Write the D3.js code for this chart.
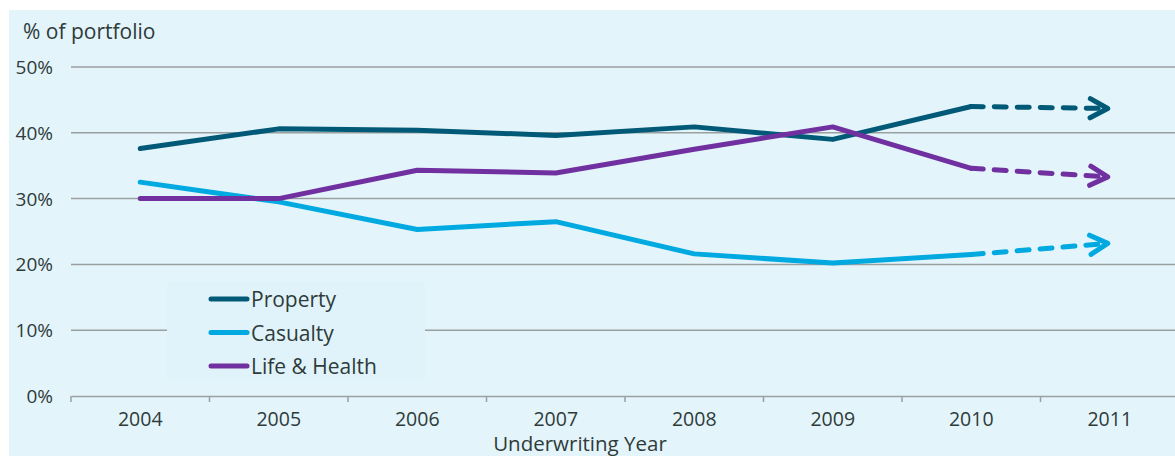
<!DOCTYPE html>
<html>
<head>
<meta charset="utf-8">
<script src="https://cdn.jsdelivr.net/npm/d3@7"></script>
<style>
  body { margin: 0; background: #fff; }
  text { font-family: "Open Sans", "Liberation Sans", sans-serif; fill: #2e3b39; }
</style>
</head>
<body>
<script>
// data
var years = ["2004", "2005", "2006", "2007", "2008", "2009", "2010", "2011"];
var property = [37.6, 40.6, 40.4, 39.6, 40.9, 39.0, 44.0, 43.7];
var casualty = [32.5, 29.5, 25.3, 26.5, 21.6, 20.2, 21.5, 23.2];
var lifeHealth = [30.0, 30.0, 34.3, 33.9, 37.5, 40.9, 34.6, 33.3];
var yTicks = [0, 10, 20, 30, 40, 50];

var series = [
    {name: "Property", values: property, color: "#005a77"},
    {name: "Casualty", values: casualty, color: "#00a9e0"},
    {name: "Life & Health", values: lifeHealth, color: "#7030a0"}
];

var width = 1175, height = 456;

var svg = d3.select("body").append("svg")
    .attr("width", width)
    .attr("height", height);

svg.append("rect")
    .attr("x", 9).attr("y", 10)
    .attr("width", width - 9).attr("height", height - 10)
    .attr("fill", "#e4f4fb");

var x = d3.scaleBand().domain(years).range([71, 1179]);
var y = d3.scaleLinear().domain([0, 50]).range([396, 67]);

// gridlines
svg.selectAll(".grid")
    .data(yTicks.filter(function (d) { return d > 0; }))
    .enter().append("line")
    .attr("x1", 71).attr("x2", width)
    .attr("y1", function (d) { return y(d); })
    .attr("y2", function (d) { return y(d); })
    .attr("stroke", "#9a9fa0")
    .attr("stroke-width", 1.5);

// y labels
svg.selectAll(".ylab")
    .data(yTicks)
    .enter().append("text")
    .attr("x", 53)
    .attr("y", function (d) { return y(d) + 7; })
    .attr("text-anchor", "end")
    .attr("font-size", 19)
    .text(function (d) { return d + "%"; });

// x axis
var xAxis = d3.axisBottom(x).tickSize(0).tickPadding(0);
var gx = svg.append("g").attr("transform", "translate(0," + y(0) + ")").call(xAxis);
gx.select(".domain").attr("stroke", "#9a9fa0").attr("stroke-width", 1.5);
gx.selectAll("text")
    .attr("font-size", 19.5)
    .attr("font-family", null)
    .attr("fill", "#2e3b39")
    .attr("dy", null)
    .attr("y", 30);
gx.selectAll(".sep")
    .data(years.map(function (d) { return x(d); }))
    .enter().append("line")
    .attr("x1", function (d) { return d; }).attr("x2", function (d) { return d; })
    .attr("y1", 0).attr("y2", 6)
    .attr("stroke", "#9a9fa0").attr("stroke-width", 1.5);

svg.append("text")
    .attr("x", 23).attr("y", 39)
    .attr("font-size", 21)
    .text("% of portfolio");

svg.append("text")
    .attr("x", 580).attr("y", 451)
    .attr("text-anchor", "middle")
    .attr("font-size", 20.5)
    .text("Underwriting Year");

// legend box
svg.append("rect")
    .attr("x", 167).attr("y", 282)
    .attr("width", 258).attr("height", 99)
    .attr("fill", "#e0f3fa");

var cx = function (i) { return x(years[i]) + x.bandwidth() / 2; };

var line = d3.line()
    .x(function (d) { return cx(d.i); })
    .y(function (d) { return y(d.v); });

series.forEach(function (s) {
    var pts = s.values.map(function (v, i) { return {i: i, v: v}; });
    var n = pts.length;
    svg.append("path")
        .attr("d", line(pts.slice(0, n - 1)))
        .attr("fill", "none")
        .attr("stroke", s.color)
        .attr("stroke-width", 5)
        .attr("stroke-linejoin", "round")
        .attr("stroke-linecap", "round");

    // dashed forecast segment, stopping short of the arrow tip
    var x0 = cx(n - 2), y0 = y(s.values[n - 2]);
    var x1 = cx(n - 1) - 2, y1 = y(s.values[n - 1]);
    var ang = Math.atan2(y1 - y0, x1 - x0);
    svg.append("path")
        .attr("d", "M" + x0 + "," + y0 + "L" + (x1 - 6 * Math.cos(ang)) + "," + (y1 - 6 * Math.sin(ang)))
        .attr("fill", "none")
        .attr("stroke", s.color)
        .attr("stroke-width", 5)
        .attr("stroke-dasharray", "12 11")
        .attr("stroke-linecap", "round");

    // open arrow head
    var len = 20, spread = 0.5;
    svg.append("path")
        .attr("d", "M" + (x1 - len * Math.cos(ang - spread)) + "," + (y1 - len * Math.sin(ang - spread)) +
            "L" + x1 + "," + y1 +
            "L" + (x1 - len * Math.cos(ang + spread)) + "," + (y1 - len * Math.sin(ang + spread)))
        .attr("fill", "none")
        .attr("stroke", s.color)
        .attr("stroke-width", 5)
        .attr("stroke-linejoin", "round")
        .attr("stroke-linecap", "round");
});

// legend
series.forEach(function (s, i) {
    var ly = 299 + i * 33.5;
    svg.append("line")
        .attr("x1", 211).attr("x2", 247)
        .attr("y1", ly).attr("y2", ly)
        .attr("stroke", s.color)
        .attr("stroke-width", 5)
        .attr("stroke-linecap", "round");
    svg.append("text")
        .attr("x", 251).attr("y", ly + 8)
        .attr("font-size", 21)
        .text(s.name);
});
</script>
</body>
</html>
